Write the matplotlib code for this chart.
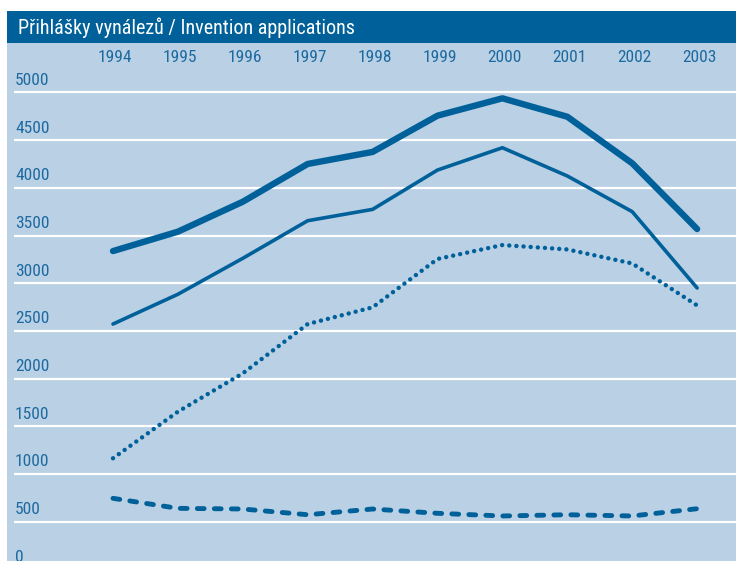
import matplotlib
matplotlib.use("Agg")
import matplotlib.pyplot as plt
from matplotlib import font_manager
from matplotlib.font_manager import FontProperties

years = [1994, 1995, 1996, 1997, 1998, 1999, 2000, 2001, 2002, 2003]
total = [3337, 3540, 3854, 4250, 4376, 4756, 4938, 4745, 4257, 3568]
series_solid = [2572, 2884, 3261, 3655, 3774, 4186, 4420, 4124, 3750, 2950]
series_dotted = [1165, 1653, 2055, 2572, 2747, 3254, 3400, 3354, 3207, 2767]
series_dashed = [745, 640, 633, 573, 633, 588, 560, 573, 560, 636]
y_ticks = [0, 500, 1000, 1500, 2000, 2500, 3000, 3500, 4000, 4500, 5000]
title = "Přihlášky vynálezů / Invention applications"

# choose a condensed font if one is installed
cands = []
for f in font_manager.fontManager.ttflist:
    st = str(f.stretch).lower()
    nm = f.name
    fn = f.fname.lower()
    if f.style != "normal" or f.weight not in (400, "normal", "regular"):
        continue
    if "narrow" in nm.lower() or "condensed" in nm.lower() or "condensed" in fn or "narrow" in fn \
            or st in ("condensed", "semi-condensed", "extra-condensed"):
        if "bold" in fn or "italic" in fn or "oblique" in fn or "light" in fn:
            continue
        cands.append(f)
pref = ["liberationsansnarrow", "robotocondensed", "dejavusanscondensed", "opensans", "noto"]
chosen = None
for p in pref:
    for f in cands:
        if p in f.fname.lower().replace("-", "").replace("_", ""):
            chosen = f.fname
            break
    if chosen:
        break
if chosen is None and cands:
    chosen = cands[0].fname
if chosen:
    fp = FontProperties(fname=chosen)
else:
    fp = FontProperties(family=["Roboto", "DejaVu Sans"])

dark = "#00619a"
bg = "#bad0e4"
txt = "#1c6aa0"

W, H = 736, 561
fig = plt.figure(figsize=(W / 100, H / 100), dpi=100)
fig.patch.set_facecolor("white")

# title bar
tb = fig.add_axes([7 / W, 1 - 43 / H, 1 - 7 / W, 32 / H])
tb.set_facecolor(dark)
tb.set_xticks([]); tb.set_yticks([])
for s in tb.spines.values():
    s.set_visible(False)
tfp = fp.copy(); tfp.set_size(14.5)
tb.text(11 / 729, 0.47, title, color="white", fontproperties=tfp, va="center", ha="left",
        transform=tb.transAxes)

# plot area
ax = fig.add_axes([7 / W, 0, 1 - 7 / W, (H - 43) / H])
ax.set_facecolor(bg)
for s in ax.spines.values():
    s.set_visible(False)
ax.set_xticks([]); ax.set_yticks([])

px_per_year = 64.9
x0 = 113
def xdata(px):
    return 1994 + (px - x0) / px_per_year

scale = 0.0954
ybase = 569.4
def ydata(py):
    return (ybase - py) / scale

ax.set_xlim(xdata(7), xdata(736))
ax.set_ylim(ydata(561), ydata(43))

lfp = fp.copy(); lfp.set_size(12.5)
for v in y_ticks:
    ax.plot([xdata(14), xdata(740)], [v, v], color="white", lw=1.6, zorder=1,
            solid_capstyle="butt")
    ax.text(xdata(15), v + 126, str(v), color=txt, fontproperties=lfp, ha="left", va="center",
            zorder=3)

for yr in years:
    ax.text(yr + 0.03, ydata(57), str(yr), color=txt, fontproperties=lfp, ha="center", va="center")

ax.plot(years, total, color=dark, lw=4.6, solid_capstyle="round", solid_joinstyle="round", zorder=4)
ax.plot(years, series_solid, color=dark, lw=2.6, solid_capstyle="round", solid_joinstyle="round", zorder=4)
ax.plot(years, series_dotted, color=dark, lw=3.2, linestyle=(0, (0.01, 1.6)),
        dash_capstyle="round", zorder=4)
ax.plot(years, series_dashed, color=dark, lw=3.5, linestyle=(0, (1.4, 2.1)),
        dash_capstyle="round", zorder=4)

fig.savefig("out.png", dpi=100)
